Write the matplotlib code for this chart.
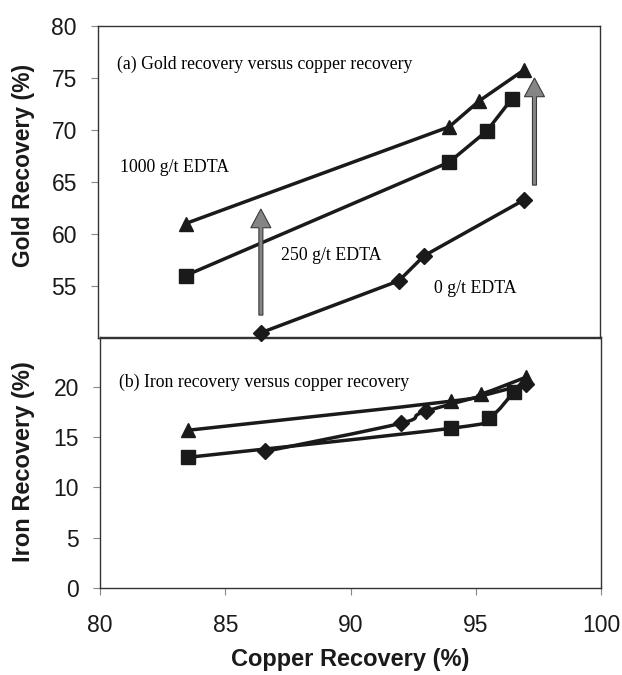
import numpy as np
import matplotlib
matplotlib.use("Agg")
import matplotlib.pyplot as plt
from matplotlib.path import Path
from matplotlib.patches import PathPatch

# ---- data ----
# (a) gold recovery vs copper recovery
cu_1000_a = [83.5, 94.0, 95.2, 97.0]
au_1000 = [61.0, 70.3, 72.8, 75.8]
cu_250_a = [83.5, 94.0, 95.5, 96.5]
au_250 = [56.0, 66.9, 69.9, 73.0]
cu_0_a = [86.5, 92.0, 93.0, 97.0]
au_0 = [50.5, 55.5, 57.9, 63.3]

# (b) iron recovery vs copper recovery
cu_1000_b = [83.5, 94.0, 95.2, 97.0]
fe_1000 = [15.7, 18.6, 19.3, 21.0]
cu_250_b = [83.5, 94.0, 95.5, 96.5]
fe_250 = [13.0, 15.9, 16.9, 19.5]
cu_0_b = [86.6, 92.0, 93.0, 97.0]
fe_0 = [13.6, 16.4, 17.6, 20.3]

# arrows in panel (a)
arrow_x = [86.5, 97.4]
arrow_y0 = [52.2, 64.7]
arrow_y1 = [62.4, 75.0]

gold_ticks = [55, 60, 65, 70, 75, 80]
iron_ticks = [0, 5, 10, 15, 20]
cu_ticks = [80, 85, 90, 95, 100]

INK = "#1a1a1a"
SANS = "Liberation Sans"
SERIF = "Liberation Serif"


def smooth_path(xs, ys):
    # catmull-rom style bezier through the points (like excel smoothed lines)
    pts = np.column_stack([xs, ys]).astype(float)
    n = len(pts)
    verts = [pts[0]]
    codes = [Path.MOVETO]
    for i in range(n - 1):
        p0 = pts[i - 1] if i > 0 else pts[i]
        p1 = pts[i]
        p2 = pts[i + 1]
        p3 = pts[i + 2] if i + 2 < n else pts[i + 1]
        c1 = p1 + (p2 - p0) / 6.0
        c2 = p2 - (p3 - p1) / 6.0
        verts += [c1, c2, p2]
        codes += [Path.CURVE4] * 3
    return Path(verts, codes)


def style_axis(ax):
    for s in ax.spines.values():
        s.set_color("#333333")
        s.set_linewidth(1.0)
    ax.tick_params(direction="out", length=5, width=0.8, color="#888888",
                   labelsize=16.5, labelcolor=INK, pad=10)
    for lab in ax.get_xticklabels() + ax.get_yticklabels():
        lab.set_fontfamily(SANS)


fig = plt.figure(figsize=(6.22, 6.75), dpi=100)
ax_a = fig.add_axes([0.1571, 0.4993, 0.8071, 0.4622])
ax_b = fig.add_axes([0.1608, 0.1293, 0.8060, 0.3714])
ax_a.set_zorder(2)
ax_a.patch.set_alpha(0)

# ---- panel (a) ----
ax_a.plot(cu_1000_a, au_1000, color=INK, lw=2.5, marker="^", ms=10,
          mfc=INK, mec=INK, zorder=3)
ax_a.plot(cu_250_a, au_250, color=INK, lw=2.5, marker="s", ms=9.5,
          mfc=INK, mec=INK, zorder=3)
ax_a.plot(cu_0_a, au_0, color=INK, lw=2.5, marker="D", ms=8,
          mfc=INK, mec=INK, zorder=3, clip_on=False)
for x, y0, y1 in zip(arrow_x, arrow_y0, arrow_y1):
    ax_a.arrow(x, y0, 0, y1 - y0, width=0.16, head_width=0.8, head_length=1.8,
               length_includes_head=True, fc="#858585", ec="#3a3a3a",
               lw=0.8, zorder=4)

ax_a.set_xlim(80, 100)
ax_a.set_ylim(50, 80)
ax_a.set_xticks([])
ax_a.set_yticks(gold_ticks)
style_axis(ax_a)

ax_a.text(80.75, 76.3, "(a) Gold recovery versus copper recovery",
          family=SERIF, fontsize=12.8, color="black", va="center")
ax_a.text(80.9, 66.4, "1000 g/t EDTA", family=SERIF, fontsize=12.8,
          color="black", va="center")
ax_a.text(87.3, 57.9, "250 g/t EDTA", family=SERIF, fontsize=12.8,
          color="black", va="center")
ax_a.text(93.4, 54.8, "0 g/t EDTA", family=SERIF, fontsize=12.8,
          color="black", va="center")

ax_a.set_ylabel("Gold Recovery (%)", family=SANS, fontsize=16.5,
                fontweight="bold", color=INK, va="center")
ax_a.yaxis.set_label_coords(-0.147, 0.554)

# ---- panel (b) ----
for xs, ys, mk, ms in [(cu_1000_b, fe_1000, "^", 10),
                       (cu_250_b, fe_250, "s", 9.5),
                       (cu_0_b, fe_0, "D", 8)]:
    ax_b.add_patch(PathPatch(smooth_path(xs, ys), fill=False, ec=INK,
                             lw=2.5, zorder=3))
    ax_b.plot(xs, ys, ls="none", marker=mk, ms=ms, mfc=INK, mec=INK,
              zorder=3)

ax_b.set_xlim(80, 100)
ax_b.set_ylim(0, 25)
ax_b.set_xticks(cu_ticks)
ax_b.set_yticks(iron_ticks)
style_axis(ax_b)
ax_b.tick_params(axis="x", pad=14)

ax_b.text(80.75, 20.5, "(b) Iron recovery versus copper recovery",
          family=SERIF, fontsize=12.8, color="black", va="center")

ax_b.set_ylabel("Iron Recovery (%)", family=SANS, fontsize=17,
                fontweight="bold", color=INK, va="center")
ax_b.yaxis.set_label_coords(-0.152, 0.501)
ax_b.set_xlabel("Copper Recovery (%)", family=SANS, fontsize=17,
                fontweight="bold", color=INK, va="center")
ax_b.xaxis.set_label_coords(0.5, -0.285)

fig.savefig("out.png", dpi=100)
